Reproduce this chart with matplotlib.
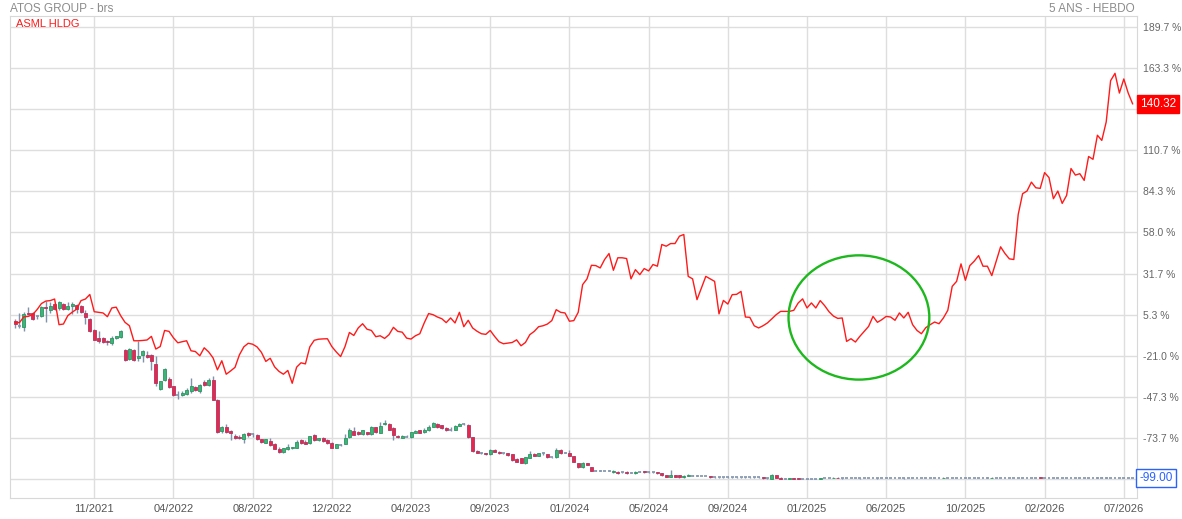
import matplotlib
matplotlib.use("Agg")
import matplotlib.pyplot as plt
import numpy as np
from matplotlib.patches import Ellipse

plt.rcParams["font.family"] = ["Liberation Sans", "DejaVu Sans"]

# weekly relative performance (%), 5 years
asml = [
    0.5, 0.3, 4.0, 4.3, 5.4, 8.6, 12.5, 14.1, 14.4, 15.4,
    -1.0, -0.6, 4.8, 7.0, 8.9, 14.4, 15.4, 18.3, 7.3, 6.9,
    6.5, 4.1, 9.7, 10.2, 4.8, 0.5, -1.7, -11.3, -11.3, -11.1,
    -10.8, -8.5, -16.6, -15.0, -4.7, -5.3, -9.4, -12.6, -11.9, -11.3,
    -17.7, -18.2, -20.9, -15.8, -18.4, -22.2, -29.9, -24.1, -32.7, -30.6,
    -28.3, -20.3, -15.2, -12.9, -13.5, -15.2, -18.7, -24.5, -22.5, -28.0,
    -30.9, -32.7, -30.3, -38.5, -28.2, -25.4, -26.1, -15.2, -11.0, -10.3,
    -10.1, -10.0, -15.0, -18.4, -21.4, -15.0, -6.0, -7.9, -3.1, -0.4,
    -3.9, -4.7, -8.7, -8.1, -9.8, -7.4, -2.7, -5.3, -5.8, -9.6,
    -10.2, -8.1, -6.8, 0.1, 6.1, 5.4, 3.9, 2.8, 0.3, 3.3,
    0.1, 6.9, -2.3, 1.8, -3.1, -5.2, -6.8, -7.2, -4.7, -8.5,
    -11.9, -13.2, -12.8, -12.4, -10.7, -14.5, -12.4, -7.4, -5.3, -2.3,
    -1.7, -0.6, 1.6, 8.6, 6.9, 6.5, 1.2, 1.6, 6.9, 24.6,
    28.3, 37.0, 36.8, 35.3, 40.7, 44.5, 33.8, 41.8, 41.8, 41.3,
    28.3, 34.2, 31.0, 34.9, 33.4, 37.5, 36.4, 50.3, 49.2, 50.9,
    50.9, 55.6, 56.7, 29.9, 28.3, 15.0, 22.5, 29.9, 28.3, 26.7,
    5.9, 14.5, 12.2, 18.2, 18.4, 20.3, 3.9, 3.7, -1.7, -3.1,
    -1.7, 0.1, 2.7, 5.4, 7.5, 7.5, 7.5, 8.2, 12.9, 15.5,
    9.7, 12.9, 9.7, 14.4, 11.2, 7.3, 4.5, 3.0, 3.3, -11.7,
    -10.0, -12.1, -8.5, -5.3, -2.1, 4.3, 0.5, 2.2, 4.3, 3.9,
    1.8, 6.5, 3.3, 6.9, -1.0, -4.7, -6.8, -2.9, -1.0, 0.7,
    -0.4, 3.3, 8.2, 23.5, 26.7, 37.9, 27.4, 36.8, 39.6, 43.2,
    36.4, 36.4, 30.4, 39.6, 48.8, 44.5, 41.1, 40.7, 69.5, 82.8,
    84.5, 90.2, 86.6, 86.2, 96.3, 93.1, 79.6, 84.5, 76.6, 81.7,
    98.9, 94.7, 95.6, 91.3, 106.6, 104.8, 120.2, 116.9, 128.7, 155.1,
    159.8, 147.2, 156.2, 147.2, 140.32,
]

atos_open = [
    1.4, -1.5, -2.7, 6.7, 6.5, 4.2, 4.4, 10.3, 8.2, 12.3,
    9.7, 12.5, 9.1, 11.2, 11.6, 11.0, 6.5, 2.7, -4.2, -9.5,
    -9.5, -11.2, -12.7, -9.5, -8.9, -17.0, -22.8, -17.0, -22.3, -20.6,
    -20.2, -20.2, -26.2, -42.2, -36.7, -35.6, -40.5, -45.7, -45.9, -45.2,
    -43.7, -41.0, -43.7, -38.0, -39.4, -36.2, -49.1, -68.9, -66.6, -68.9,
    -72.1, -72.6, -73.9, -70.0, -71.0, -71.5, -74.3, -76.4, -75.3, -77.5,
    -80.5, -82.6, -80.5, -80.0, -79.6, -74.7, -75.8, -76.8, -71.5, -75.1,
    -73.6, -74.7, -76.8, -79.6, -77.7, -77.3, -73.0, -68.9, -69.4, -71.1,
    -69.8, -71.1, -66.6, -70.0, -64.7, -64.4, -67.2, -72.1, -73.2, -72.5,
    -73.0, -70.0, -68.7, -69.8, -68.7, -66.2, -64.7, -65.5, -66.8, -68.2,
    -68.3, -65.7, -64.3, -65.1, -73.0, -81.8, -83.1, -83.3, -83.9, -81.1,
    -82.2, -83.2, -83.3, -83.9, -87.1, -86.5, -89.2, -86.0, -83.7, -84.8,
    -83.2, -83.9, -85.7, -85.8, -81.1, -82.7, -83.3, -85.0, -89.7, -92.2,
    -89.7, -92.2, -94.5, -94.6, -94.6, -94.6, -95.4, -95.0, -95.3, -95.0,
    -95.6, -96.1, -95.0, -94.6, -95.4, -95.4, -95.4, -96.1, -97.1, -98.2,
    -97.1, -97.1, -98.6, -97.8, -97.5, -97.7, -97.8, -97.8, -97.8, -98.6,
    -98.6, -98.6, -98.7, -98.6, -98.6, -98.7, -98.6, -98.6, -98.7, -98.6,
    -98.4, -99.4, -99.6, -97.4, -98.9, -99.5, -99.6, -99.0, -99.1, -99.6,
    -99.6, -99.6, -99.6, -99.6, -99.3, -99.3, -99.3, -98.8, -99.3, -99.3,
    -99.3, -99.3, -99.4, -99.3, -99.3, -99.3, -99.4, -99.3, -99.3, -99.3,
    -99.3, -99.3, -99.4, -99.3, -99.3, -99.3, -99.3, -99.3, -99.3, -99.3,
    -99.0, -99.3, -98.9, -98.9, -98.9, -98.9, -98.9, -98.9, -98.9, -98.9,
    -98.9, -98.9, -99.2, -98.9, -98.9, -98.9, -98.9, -98.9, -98.9, -98.9,
    -98.9, -98.9, -98.9, -98.7, -99.1, -99.1, -99.1, -99.1, -99.1, -99.1,
    -99.1, -99.1, -99.1, -99.1, -99.1, -99.1, -99.1, -99.1, -99.1, -99.1,
    -99.1, -99.1, -99.0, -99.0, -99.0,
]

atos_high = [
    2.7, 6.5, 7.1, 10.3, 7.1, 5.4, 10.8, 14.0, 13.3, 12.9,
    14.4, 12.9, 13.8, 13.6, 12.1, 11.4, 8.6, 3.1, -3.8, -5.3,
    -9.1, -10.6, -8.5, -8.0, -4.2, -16.6, -15.9, -16.6, -11.7, -17.4,
    -18.1, -19.6, -21.3, -36.9, -28.8, -34.5, -40.1, -43.7, -43.3, -41.6,
    -35.2, -40.5, -38.8, -36.2, -35.4, -34.1, -48.5, -65.7, -64.4, -68.3,
    -71.1, -71.5, -70.0, -69.4, -70.0, -70.9, -73.9, -73.9, -73.6, -76.8,
    -79.0, -80.0, -77.5, -79.0, -74.7, -74.3, -74.7, -72.1, -71.1, -73.2,
    -73.0, -74.3, -75.8, -77.3, -77.1, -70.9, -67.2, -66.2, -68.9, -68.3,
    -69.4, -65.7, -66.2, -63.0, -61.9, -63.6, -66.2, -71.5, -71.9, -71.9,
    -69.4, -68.3, -68.3, -67.2, -65.1, -63.0, -64.0, -65.1, -66.2, -66.2,
    -65.1, -64.0, -63.6, -64.4, -72.6, -81.3, -82.6, -82.8, -80.5, -80.8,
    -81.8, -82.8, -82.8, -83.5, -86.5, -86.0, -85.4, -81.8, -83.3, -83.0,
    -82.4, -83.5, -85.4, -80.1, -80.8, -82.4, -81.1, -84.8, -89.5, -89.0,
    -89.5, -91.9, -94.2, -94.0, -94.4, -94.0, -94.2, -94.8, -95.0, -94.8,
    -95.4, -94.8, -94.6, -94.4, -95.2, -95.2, -95.2, -95.9, -96.9, -93.9,
    -96.9, -96.9, -97.4, -96.5, -97.2, -97.5, -97.6, -97.6, -97.6, -98.4,
    -98.4, -98.4, -98.5, -98.4, -98.4, -98.5, -98.4, -98.4, -98.5, -98.4,
    -98.2, -99.2, -96.5, -97.2, -98.7, -99.3, -98.9, -98.9, -99.0, -99.5,
    -99.5, -99.5, -99.5, -99.0, -99.2, -99.2, -98.7, -98.7, -99.2, -99.2,
    -99.2, -99.2, -99.3, -99.2, -98.8, -99.2, -99.3, -99.2, -99.2, -99.2,
    -99.2, -99.2, -99.3, -99.2, -99.2, -99.2, -99.2, -99.2, -99.2, -99.2,
    -98.8, -98.5, -98.8, -98.8, -98.8, -98.8, -98.8, -98.8, -98.8, -98.8,
    -98.8, -98.4, -98.7, -98.8, -98.8, -98.8, -98.8, -98.8, -98.8, -98.8,
    -98.8, -98.8, -98.8, -98.6, -99.0, -99.0, -99.0, -99.0, -99.0, -99.0,
    -99.0, -99.0, -99.0, -99.0, -99.0, -99.0, -98.5, -98.5, -98.5, -99.0,
    -99.0, -99.0, -98.9, -98.9, -98.9,
]

atos_low = [
    -3.1, -3.1, -5.3, 5.0, 2.2, 2.7, 3.9, 0.5, 6.5, 8.6,
    8.6, 8.2, 8.2, 5.9, 6.5, 6.7, -0.3, -5.7, -11.0, -12.7,
    -12.5, -14.2, -13.8, -10.0, -9.3, -24.3, -23.4, -24.5, -24.5, -25.1,
    -22.3, -29.8, -40.1, -43.1, -37.3, -41.6, -46.9, -48.6, -46.9, -45.9,
    -44.8, -43.7, -44.4, -40.1, -40.1, -49.5, -70.0, -70.4, -70.0, -74.7,
    -74.3, -74.3, -76.4, -72.6, -72.6, -74.7, -76.6, -76.8, -78.5, -80.7,
    -83.0, -83.0, -80.9, -80.5, -80.0, -77.3, -77.5, -77.3, -75.3, -75.5,
    -75.8, -77.1, -80.0, -80.0, -78.5, -77.5, -73.2, -71.9, -71.5, -71.5,
    -71.5, -71.5, -70.0, -70.4, -65.1, -68.7, -74.7, -73.6, -73.6, -73.0,
    -73.2, -70.4, -70.4, -70.0, -69.0, -66.6, -66.8, -67.5, -69.0, -68.9,
    -68.7, -66.0, -64.9, -73.2, -82.2, -83.4, -83.7, -84.1, -84.3, -82.4,
    -83.5, -83.7, -84.8, -88.0, -88.9, -89.5, -90.3, -86.3, -85.0, -85.0,
    -84.1, -86.0, -86.0, -86.0, -83.5, -83.2, -85.2, -88.9, -92.4, -92.4,
    -90.9, -94.6, -94.8, -94.8, -94.8, -94.8, -95.6, -96.3, -95.6, -96.3,
    -95.8, -96.3, -95.2, -95.6, -95.6, -95.6, -96.3, -97.6, -98.4, -98.4,
    -98.4, -98.8, -98.8, -98.0, -97.8, -97.9, -98.0, -98.0, -98.8, -98.8,
    -98.8, -98.8, -98.9, -98.8, -98.8, -98.9, -98.8, -98.8, -98.9, -98.8,
    -99.6, -99.6, -99.8, -99.2, -99.8, -99.7, -99.8, -99.8, -99.8, -99.7,
    -99.7, -99.7, -99.7, -99.8, -99.4, -99.4, -99.4, -99.4, -99.5, -99.4,
    -99.4, -99.4, -99.5, -99.4, -99.4, -99.4, -99.5, -99.4, -99.4, -99.4,
    -99.4, -99.4, -99.5, -99.4, -99.4, -99.4, -99.4, -99.4, -99.4, -99.4,
    -99.1, -99.4, -99.0, -99.0, -99.0, -99.0, -99.0, -99.0, -99.0, -99.0,
    -99.0, -99.0, -99.3, -99.0, -99.0, -99.0, -99.0, -99.0, -99.0, -99.0,
    -99.0, -99.0, -99.0, -99.3, -99.2, -99.2, -99.2, -99.2, -99.2, -99.2,
    -99.2, -99.2, -99.2, -99.2, -99.2, -99.2, -99.2, -99.2, -99.2, -99.2,
    -99.2, -99.2, -99.1, -99.1, -99.1,
]

atos_close = [
    -0.6, -1.6, 6.1, 5.6, 2.7, 4.4, 10.3, 9.5, 11.2, 9.1,
    13.3, 9.1, 11.2, 12.1, 9.1, 7.1, 3.9, -5.3, -10.6, -11.2,
    -12.1, -12.3, -9.5, -8.5, -5.3, -23.8, -16.4, -23.4, -21.3, -18.1,
    -21.7, -24.5, -38.4, -37.3, -29.4, -41.0, -46.3, -45.9, -44.4, -42.6,
    -40.5, -43.1, -39.4, -39.4, -36.2, -49.1, -69.4, -66.6, -69.4, -70.4,
    -73.2, -73.6, -71.1, -71.9, -71.1, -74.3, -76.2, -74.3, -77.9, -80.3,
    -82.6, -80.0, -79.0, -79.0, -75.8, -76.8, -77.1, -72.1, -75.1, -73.6,
    -75.3, -76.8, -79.6, -77.5, -77.9, -73.6, -68.3, -71.5, -71.1, -68.7,
    -71.1, -66.2, -69.4, -65.7, -63.6, -68.3, -71.5, -73.0, -72.1, -72.6,
    -69.8, -68.9, -70.0, -68.3, -66.2, -64.0, -66.2, -67.2, -68.7, -68.3,
    -65.7, -64.7, -64.4, -73.0, -81.8, -83.2, -83.2, -83.9, -81.1, -82.2,
    -83.3, -83.3, -84.5, -87.7, -88.6, -89.2, -85.8, -83.7, -84.8, -83.3,
    -83.3, -85.8, -85.8, -81.1, -83.3, -82.8, -85.0, -88.6, -92.2, -89.7,
    -90.7, -94.4, -94.6, -94.6, -94.6, -94.6, -94.4, -96.1, -95.4, -96.1,
    -95.6, -95.0, -95.0, -95.4, -95.4, -95.4, -96.1, -97.4, -98.2, -97.1,
    -98.2, -98.6, -97.6, -96.9, -97.6, -97.8, -97.8, -97.9, -98.6, -98.6,
    -98.6, -98.6, -98.7, -98.6, -98.6, -98.7, -98.6, -98.6, -98.7, -98.6,
    -99.4, -99.4, -97.4, -99.0, -99.6, -99.5, -99.0, -99.6, -99.6, -99.6,
    -99.6, -99.6, -99.6, -99.1, -99.3, -99.3, -98.8, -99.3, -99.3, -99.3,
    -99.3, -99.3, -99.4, -99.3, -99.3, -99.3, -99.4, -99.3, -99.3, -99.3,
    -99.3, -99.3, -99.4, -99.3, -99.3, -99.3, -99.3, -99.3, -99.3, -99.3,
    -99.0, -98.9, -98.9, -98.9, -98.9, -98.9, -98.9, -98.9, -98.9, -98.9,
    -98.9, -98.9, -98.8, -98.9, -98.9, -98.9, -98.9, -98.9, -98.9, -98.9,
    -98.9, -98.9, -98.9, -99.2, -99.1, -99.1, -99.1, -99.1, -99.1, -99.1,
    -99.1, -99.1, -99.1, -99.1, -99.1, -99.1, -99.1, -99.1, -99.1, -99.1,
    -99.1, -99.1, -99.0, -99.0, -99.0,
]

date_labels = ["11/2021", "04/2022", "08/2022", "12/2022", "04/2023", "09/2023",
               "01/2024", "05/2024", "09/2024", "01/2025", "06/2025", "10/2025",
               "02/2026", "07/2026"]
grid_values = [189.7, 163.3, 137.0, 110.7, 84.3, 58.0, 31.7, 5.3, -21.0,
               -47.3, -73.7, -100.0]
grid_labels = ["189.7 %", "163.3 %", "", "110.7 %", "84.3 %", "58.0 %", "31.7 %",
               "5.3 %", "-21.0 %", "-47.3 %", "-73.7 %", ""]
weeks_per_tick = 18

W, H = 1182, 519
fig = plt.figure(figsize=(W / 100, H / 100), dpi=100)
ax = fig.add_axes([10 / W, 21 / H, 1127 / W, 481.7 / H])

x = np.arange(len(asml))
o = np.array(atos_open); c = np.array(atos_close)
hi = np.array(atos_high); lo = np.array(atos_low)

wick_c = "#7f93ad"
ax.vlines(x, lo, hi, color=wick_c, lw=1.0, zorder=2)
flat = np.abs(c - o) < 0.3
up = (c > o) & ~flat
dn = (c < o) & ~flat
bw = 0.68
ax.bar(x[up], (c - o)[up], bottom=o[up], width=bw, color="#3db57a",
       edgecolor="#2e9461", lw=0.6, zorder=3)
ax.bar(x[dn], (o - c)[dn], bottom=c[dn], width=bw, color="#e8264f",
       edgecolor="#b0355e", lw=0.6, zorder=3)
ax.hlines(c[flat], x[flat] - bw / 2, x[flat] + bw / 2, color=wick_c, lw=1.2, zorder=3)

ax.plot(x, asml, color="#ff1a1a", lw=1.0, zorder=4)

ax.add_patch(Ellipse((191.8, 3.6), 32.0, 79.5, fill=False, ec="#1db81d", lw=1.7, zorder=5))

ax.set_xlim(-1.14, 255.0)
ax.set_ylim(-111.9, 196.3)
ax.set_xticks([weeks_per_tick * (k + 1) for k in range(len(date_labels))])
ax.set_xticklabels(date_labels)
ax.yaxis.tick_right()
ax.set_yticks(grid_values)
ax.set_yticklabels(grid_labels)
ax.tick_params(axis="both", length=0, labelsize=8, labelcolor="#666666")
ax.tick_params(axis="y", pad=4, labelsize=7.5)
ax.tick_params(axis="x", pad=4, labelcolor="#555555")
ax.grid(color="#dedede", lw=1.0)
ax.set_axisbelow(True)
for s in ax.spines.values():
    s.set_color("#d8d8d8")

ax.text(0.005, 0.995, "ASML HLDG", transform=ax.transAxes, color="#ff1a1a",
        fontsize=8, va="top", ha="left")
fig.text(10 / W, 1 - 9 / H, "ATOS GROUP - brs", color="#8c8c8c", fontsize=8.5, va="center")
fig.text(1135 / W, 1 - 9 / H, "5 ANS - HEBDO", color="#8c8c8c", fontsize=8.5,
         va="center", ha="right")

yt = ax.get_yaxis_transform()
ax.text(1.003, asml[-1], f"{asml[-1]:.2f}", transform=yt, color="white", fontsize=8.5,
        va="center", ha="left", zorder=6,
        bbox=dict(boxstyle="square,pad=0.25", fc="#ff0000", ec="#ff0000"))
ax.text(1.002, atos_close[-1], f"{atos_close[-1]:.2f}", transform=yt, color="#2962ff",
        fontsize=8.5, va="center", ha="left", zorder=6,
        bbox=dict(boxstyle="square,pad=0.25", fc="white", ec="#2962ff", lw=1.0))

fig.savefig("out.png", dpi=100)
